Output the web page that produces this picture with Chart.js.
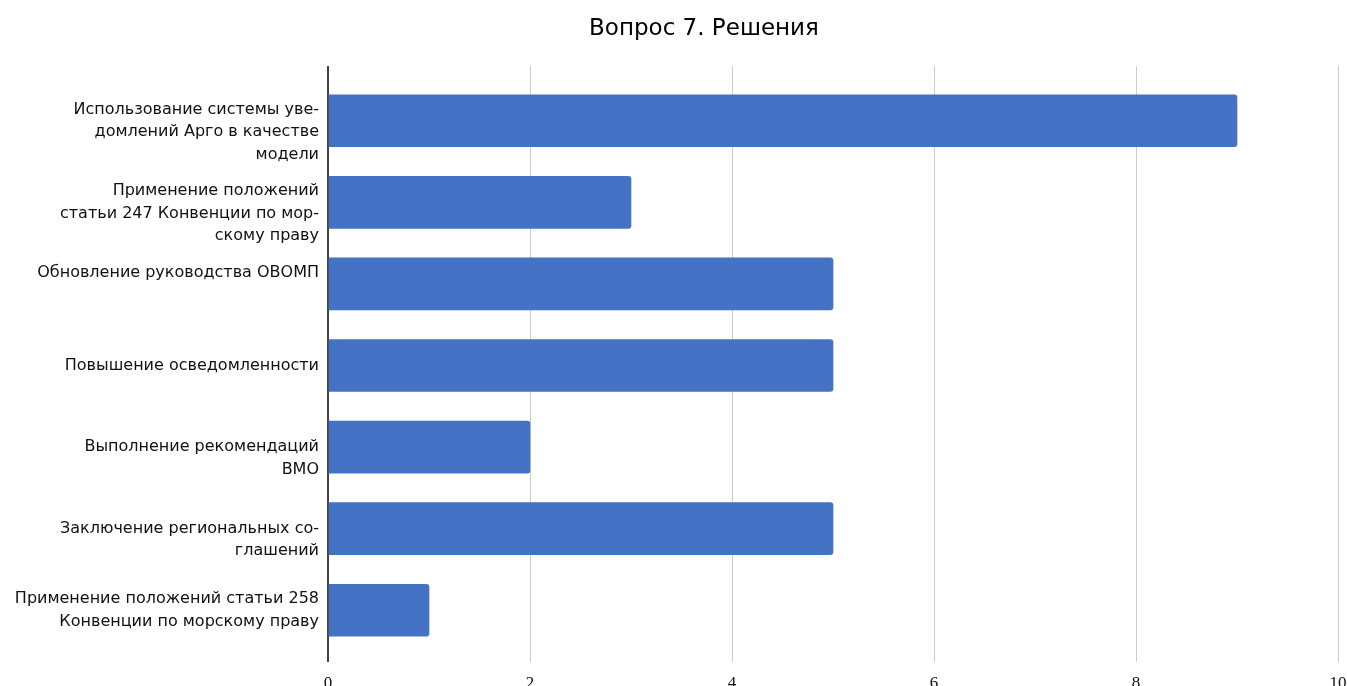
<!DOCTYPE html>
<html>
<head>
<meta charset="utf-8">
<script src="https://cdn.jsdelivr.net/npm/chart.js@4/dist/chart.umd.min.js"></script>
<style>
  html, body { margin: 0; padding: 0; background: #ffffff; }
  #wrap { position: relative; width: 1347px; height: 686px; overflow: hidden; }
  #title { position: absolute; top: 14px; left: 704px; transform: translateX(-50%);
           font-family: "DejaVu Sans", sans-serif; font-size: 23px; color: #000;
           white-space: nowrap; line-height: normal; }
  canvas { position: absolute; left: 0; top: 0; }
</style>
</head>
<body>
<div id="wrap">
  <canvas id="c" width="1347" height="686"></canvas>
  <div id="title">Вопрос 7. Решения</div>
</div>
<script>
// ---- data ----
const categories = [
  ["Использование системы уве-", "домлений Арго в качестве", "модели"],
  ["Применение положений", "статьи 247 Конвенции по мор-", "скому праву"],
  ["Обновление руководства ОВОМП"],
  ["Повышение осведомленности"],
  ["Выполнение рекомендаций", "ВМО"],
  ["Заключение региональных со-", "глашений"],
  ["Применение положений статьи 258", "Конвенции по морскому праву"]
];
const values = [9, 3, 5, 5, 2, 5, 1];
const xTicks = [0, 2, 4, 6, 8, 10];

// label vertical nudges (blank lines before / after), styling only
const leadBlank = [1, 1, 0, 0, 1, 1, 0];
const tailBlank = [0, 0, 1, 0, 0, 0, 0];

const gridColor = (ctx) => (ctx.tick && ctx.tick.value === 0) ? '#444444' : '#cccccc';
const gridWidth = (ctx) => (ctx.tick && ctx.tick.value === 0) ? 2 : 1;
const noPad = (s) => { s.paddingTop = 0; s.paddingBottom = 0; s.paddingLeft = 0; s.paddingRight = 0; };

new Chart(document.getElementById('c'), {
  type: 'bar',
  data: {
    labels: categories.map((c, i) => i),
    datasets: [{
      data: values,
      backgroundColor: '#4472c4',
      borderRadius: 3,
      barThickness: 52
    }]
  },
  options: {
    indexAxis: 'y',
    responsive: false,
    animation: false,
    layout: { padding: { top: 66, right: 9, left: 0, bottom: 0 } },
    plugins: { legend: { display: false }, title: { display: false }, tooltip: { enabled: false } },
    scales: {
      y: {
        type: 'category',
        position: 'left',
        grid: { display: false },
        border: { display: false },
        afterFit: (s) => { s.width = 328; noPad(s); },
        ticks: {
          autoSkip: false,
          padding: 1,
          color: '#111111',
          font: { family: '"DejaVu Sans", sans-serif', size: 16, lineHeight: 1.4 },
          callback: (v, i) => {
            const lines = [];
            for (let k = 0; k < leadBlank[i]; k++) lines.push('');
            lines.push(...categories[i]);
            for (let k = 0; k < tailBlank[i]; k++) lines.push('');
            return lines;
          }
        }
      },
      x: {
        type: 'linear',
        position: 'bottom',
        min: 0, max: 10,
        afterBuildTicks: (s) => { s.ticks = xTicks.map(v => ({ value: v })); },
        afterFit: (s) => { s.height = 35; noPad(s); },
        border: { display: false },
        grid: { color: gridColor, lineWidth: gridWidth, tickLength: 11, drawTicks: true },
        ticks: {
          autoSkip: false,
          padding: 11,
          color: '#111111',
          maxRotation: 0,
          font: { family: '"Liberation Serif", serif', size: 17 }
        }
      },
      xTop: {
        type: 'linear',
        position: 'top',
        axis: 'x',
        min: 0, max: 10,
        afterBuildTicks: (s) => { s.ticks = xTicks.map(v => ({ value: v })); },
        afterFit: (s) => { s.height = 14; noPad(s); },
        border: { display: false },
        grid: { color: gridColor, lineWidth: gridWidth, tickLength: 14, drawTicks: true },
        ticks: { display: false }
      }
    }
  }
});
</script>
</body>
</html>
